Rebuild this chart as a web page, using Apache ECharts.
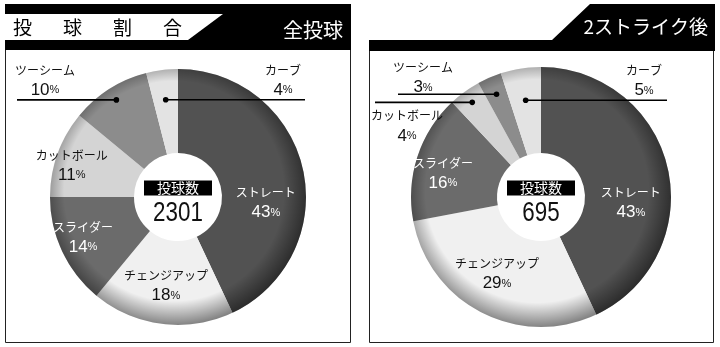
<!DOCTYPE html>
<html><head><meta charset="utf-8">
<script src="https://cdn.jsdelivr.net/npm/echarts@6/dist/echarts.min.js"></script>
<style>html,body{margin:0;padding:0;background:#fff}#c{width:720px;height:347px}</style>
</head><body><div id="c"></div>
<script>
// ---- data ----
const categories = ['ストレート','チェンジアップ','スライダー','カットボール','ツーシーム','カーブ'];
const allPitches = [43, 18, 14, 11, 10, 4];
const twoStrikes = [43, 29, 16, 4, 3, 5];
const totals = [2301, 695];
const panelTitles = ['全投球', '2ストライク後'];
const headerChars = ['投','球','割','合'];
const centerLabel = '投球数';

// ---- style / layout ----
const sliceColors = ['#525252','#f0f0f0','#6b6b6b','#d4d4d4','#8c8c8c','#e3e3e3'];
const whiteText = [0, 2];
const JP = "'Noto Sans CJK JP','Noto Sans',sans-serif";
const NUM = "'Liberation Sans Narrow','Arial Narrow','Liberation Sans',sans-serif";
const PIES = [
  {cx:178, cy:197, r0:44, r:128, values:allPitches},
  {cx:541, cy:197, r0:44, r:130, values:twoStrikes}
];
// inside: ['in', angle shift, radius]; outside: ['out', dot radius, line end x, label dx, label dy]
const labelPlacement = [
  [['in',15.9,88],['in',0.6,89],['in',2.4,103],['in',-3,111],['out',115,17,28,-20],['out',98,305,-22,-20]],
  [['in',15.8,90],['in',3,88],['in',-4.2,101],['out',117,375,32,23],['out',112,398,25,-17],['out',98,667,-23,-20]]
];

function midAngles(vals){
  const tot = vals.reduce((a,b)=>a+b,0); let c = 0;
  return vals.map(v=>{ const m=(c+v/2)/tot*360; c+=v; return m; });
}
function polar(p, ang, rad){
  const a = ang*Math.PI/180;
  return [p.cx + rad*Math.sin(a), p.cy - rad*Math.cos(a)];
}
function labelPos(si, i){
  const p = PIES[si], m = midAngles(p.values)[i], lp = labelPlacement[si][i];
  if (lp[0]==='in') return {pos: polar(p, m+lp[1], lp[2])};
  const dot = polar(p, m, lp[1]);
  return {pos:[lp[2]+lp[3], dot[1]+lp[4]], dot:dot, end:lp[2]};
}

const series = [];
const graphics = [];

// panel decorations
graphics.push({type:'rect', shape:{x:5.5,y:4.5,width:345,height:338}, style:{fill:'none',stroke:'#222',lineWidth:1}, z:1});
graphics.push({type:'rect', shape:{x:5,y:4,width:346,height:46}, style:{fill:'#000'}, z:2});
graphics.push({type:'polygon', shape:{points:[[5,14],[223,14],[188,40],[5,40]]}, style:{fill:'#fff'}, z:3});
headerChars.forEach((ch,k)=>graphics.push({type:'text', x:13+50*k, y:28, style:{text:ch, fill:'#000', font:"19px "+JP, verticalAlign:'middle', align:'left'}, z:4}));
graphics.push({type:'text', x:343, y:30, style:{text:panelTitles[0], fill:'#fff', font:"20px "+JP, align:'right', verticalAlign:'middle'}, z:4});

graphics.push({type:'rect', shape:{x:369.5,y:50.5,width:344,height:292}, style:{fill:'none',stroke:'#222',lineWidth:1}, z:1});
graphics.push({type:'polygon', shape:{points:[[590,4],[715,4],[715,51],[369,51],[369,40],[552,40]]}, style:{fill:'#000'}, z:2});
graphics.push({type:'text', x:708, y:27, style:{text:panelTitles[1], fill:'#fff', font:"19px "+JP, align:'right', verticalAlign:'middle'}, z:4});

PIES.forEach((p, si)=>{
  series.push({
    type:'pie', center:[p.cx,p.cy], radius:[p.r0,p.r], startAngle:90, clockwise:true,
    avoidLabelOverlap:false, animation:false, z:2,
    labelLine:{show:false},
    data: categories.map((n,i)=>{
      const col = whiteText.includes(i) ? '#fff' : '#111';
      return {
        name:n, value:p.values[i], itemStyle:{color:sliceColors[i]},
        label:{show:true, position:'inside', color:col,
          formatter: d=>`{t|${d.name}}\n{n|${d.value}}{p|%}`,
          rich:{
            t:{fontFamily:JP, fontSize:12, color:col, lineHeight:19, align:'center'},
            n:{fontFamily:NUM, fontSize:17, color:col, lineHeight:19, verticalAlign:'bottom'},
            p:{fontFamily:NUM, fontSize:11, color:col, lineHeight:11, verticalAlign:'bottom', padding:[0,0,3,0]}
          }}
      };
    }),
    labelLayout: params=>{
      const L = labelPos(si, params.dataIndex);
      return {x:L.pos[0], y:L.pos[1], align:'center', verticalAlign:'middle'};
    }
  });
  // rim shading overlay
  series.push({
    type:'pie', center:[p.cx,p.cy], radius:[p.r0,p.r], silent:true, animation:false, z:2,
    label:{show:false}, labelLine:{show:false},
    data:[{value:1, itemStyle:{color:{type:'radial', x:p.cx-4, y:p.cy-6, r:p.r+6, global:true,
      colorStops:[{offset:0,color:'rgba(0,0,0,0)'},{offset:0.82,color:'rgba(0,0,0,0)'},{offset:1,color:'rgba(0,0,0,0.45)'}]}}}]
  });
  // leader lines and dots
  categories.forEach((n,i)=>{
    const L = labelPos(si,i);
    if (!L.dot) return;
    graphics.push({type:'line', shape:{x1:L.dot[0],y1:L.dot[1],x2:L.end,y2:L.dot[1]}, style:{stroke:'#000',lineWidth:1.6}, z:10});
    graphics.push({type:'circle', shape:{cx:L.dot[0],cy:L.dot[1],r:2.8}, style:{fill:'#000'}, z:10});
  });
  // center texts
  graphics.push({type:'text', x:p.cx, y:188, style:{text:centerLabel, fill:'#fff', font:"14px "+JP, align:'center', verticalAlign:'middle', backgroundColor:'#000', padding:[0,13,0,13], lineHeight:15}, z:10});
  graphics.push({type:'text', x:p.cx, y:213, scaleX:0.8, style:{text:String(totals[si]), fill:'#111', font:"28px "+NUM, align:'center', verticalAlign:'middle'}, z:10});
});

const chart = echarts.init(document.getElementById('c'), null, {renderer:'canvas'});
chart.setOption({animation:false, backgroundColor:'#fff', series:series, graphic:{elements:graphics}});
</script>
</body></html>
